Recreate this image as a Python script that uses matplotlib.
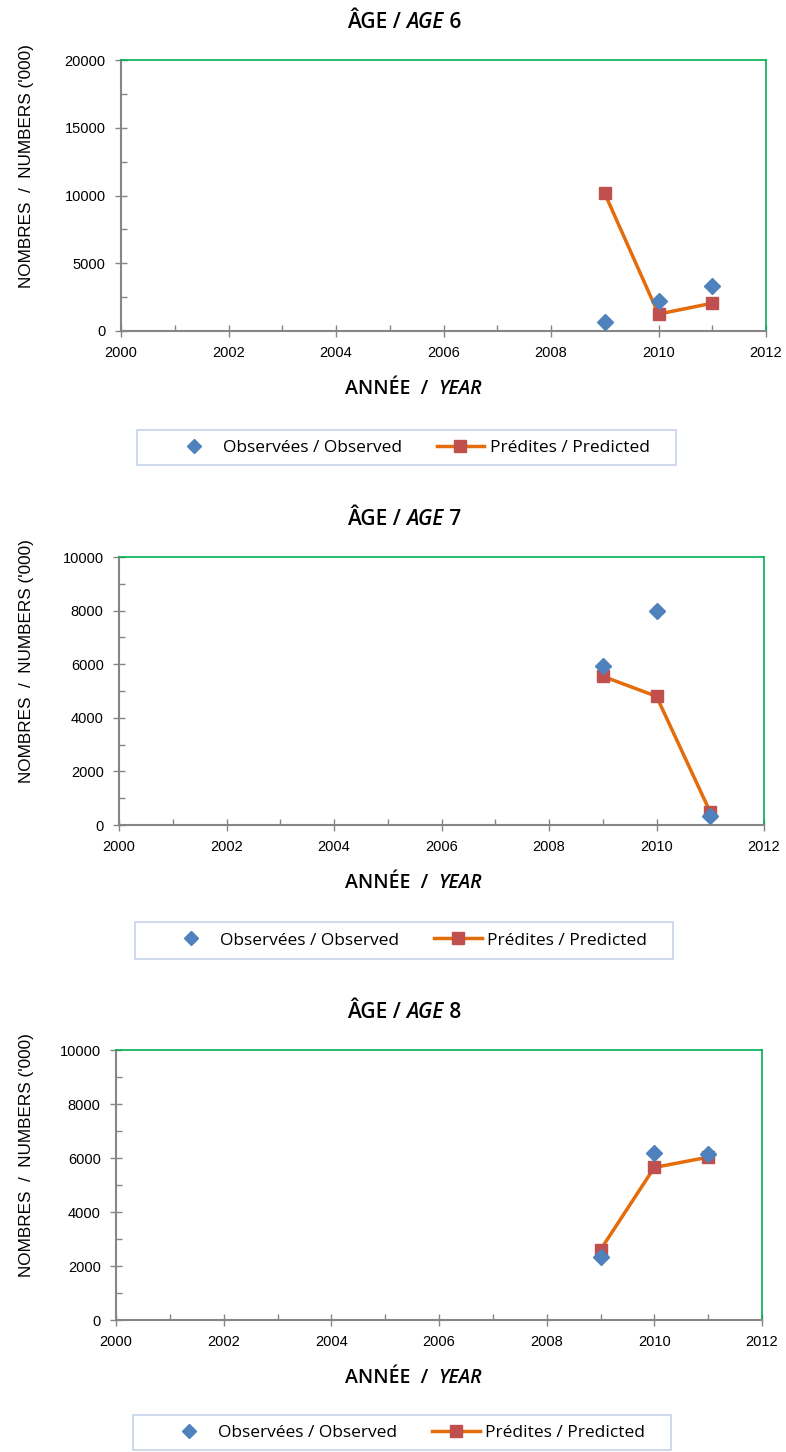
import numpy as np
import matplotlib.pyplot as plt
from matplotlib.lines import Line2D
from matplotlib.patches import Rectangle
from matplotlib.ticker import MultipleLocator

# data
years = [2009, 2010, 2011]
ages = [6, 7, 8]
observed = {
    6: [700, 2200, 3300],
    7: [5950, 8000, 330],
    8: [2350, 6180, 6150],
}
predicted = {
    6: [10150, 1250, 2050],
    7: [5550, 4800, 480],
    8: [2600, 5650, 6030],
}
ymax = {6: 20000, 7: 10000, 8: 10000}
ystep = {6: 5000, 7: 2000, 8: 2000}

blue = '#4F81BD'
red = '#C0504D'
orange = '#E46C0A'
green = '#00B050'
grey = '#868686'

plt.rcParams['font.family'] = ['Liberation Sans', 'DejaVu Sans']

fig = plt.figure(figsize=(7.86, 14.52), dpi=100)

# axes boxes in pixels: left, top, right, bottom
boxes = [(121, 60, 766, 331), (119, 557, 764, 825), (116, 1050, 762, 1320)]
legboxes = [(137, 430, 676, 465), (135, 922, 673, 959), (133, 1415, 671, 1450)]
W, H = 786, 1452
head = dict(fontsize=14, family='Open Sans', fontweight='semibold')
title_font = dict(head, fontsize=15)

for age, (l, t, r, b), (ll, lt, lr, lb) in zip(ages, boxes, legboxes):
    ax = fig.add_axes([l / W, 1 - b / H, (r - l) / W, (b - t) / H])
    ax.plot(years, observed[age], linestyle='none', marker='D', ms=8,
            color=blue, zorder=3)
    ax.plot(years, predicted[age], color=orange, lw=2.5, marker='s', ms=9,
            mfc=red, mec=red, zorder=2)
    ax.set_xlim(2000, 2012)
    ax.set_ylim(0, ymax[age])
    ax.xaxis.set_major_locator(MultipleLocator(2))
    ax.xaxis.set_minor_locator(MultipleLocator(1))
    ax.yaxis.set_major_locator(MultipleLocator(ystep[age]))
    ax.yaxis.set_minor_locator(MultipleLocator(ystep[age] / 2))
    for s in ['left', 'bottom']:
        ax.spines[s].set_color(grey)
        ax.spines[s].set_linewidth(1.5)
    for s in ['top', 'right']:
        ax.spines[s].set_color(green)
        ax.spines[s].set_linewidth(1.2)
    ax.tick_params(which='major', direction='inout', length=8, width=1,
                   color=grey, labelsize=10.5)
    ax.tick_params(which='minor', direction='in', length=4, width=1, color=grey)
    ax.tick_params(axis='x', which='major', pad=6.5)
    ax.tick_params(axis='y', which='major', pad=7)

    ax.set_ylabel("NOMBRES  /  NUMBERS ('000)", fontsize=12.3)
    ax.yaxis.set_label_coords((34 - l) / (r - l), 0.61)

    # title with italic part
    t1 = fig.text(347 / W, 1 - (t - 32) / H, 'ÂGE / ', ha='left',
                  va='baseline', **title_font)
    a2 = ax.annotate('AGE', xy=(1, 0), xycoords=t1, va='bottom', ha='left',
                     style='italic', **title_font)
    ax.annotate(' %d' % age, xy=(1, 0), xycoords=a2, va='bottom', ha='left',
                **title_font)

    # x label with italic part
    x1 = fig.text(345 / W, 1 - (b + 63) / H, 'ANNÉE  /  ', ha='left',
                  va='baseline', **head)
    ax.annotate('YEAR', xy=(1, 0), xycoords=x1, va='bottom', ha='left',
                style='italic', **head)

    # legend box below each panel
    fig.patches.append(Rectangle((ll / W, 1 - lb / H), (lr - ll) / W,
                                 (lb - lt) / H, transform=fig.transFigure,
                                 fill=False, edgecolor='#C6D4EA', lw=1.2))
    handles = [
        Line2D([], [], linestyle='none', marker='D', ms=7.5, color=blue),
        Line2D([], [], color=orange, lw=2.5, marker='s', ms=9, mfc=red, mec=red),
    ]
    fig.legend(handles, ['Observées / Observed', 'Prédites / Predicted'],
               loc='center', ncol=2, frameon=False,
               bbox_to_anchor=((ll + lr) / 2 / W + 0.004, 1 - (lt + lb) / 2 / H),
               prop={'family': 'Open Sans', 'size': 12.5},
               handlelength=2.75, columnspacing=2.0, handletextpad=0.3)

fig.savefig('out.png', dpi=100)
